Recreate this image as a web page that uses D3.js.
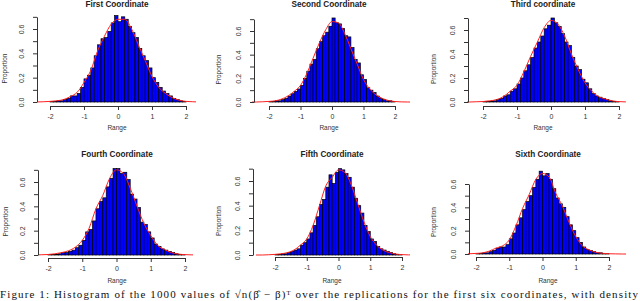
<!DOCTYPE html>
<html>
<head>
<meta charset="utf-8">
<script src="https://cdn.jsdelivr.net/npm/d3@7"></script>
<style>
  body { margin: 0; background: #fff; }
  svg { display: block; font-family: "Liberation Sans", Arial, sans-serif; }
</style>
</head>
<body>
<div id="chart"></div>
<script>
// bin left edges, width 0.1
const binStarts = [-2.0, -1.9, -1.8, -1.7, -1.6, -1.5, -1.4, -1.3, -1.2, -1.1,
                   -1.0, -0.9, -0.8, -0.7, -0.6, -0.5, -0.4, -0.3, -0.2, -0.1,
                    0.0,  0.1,  0.2,  0.3,  0.4,  0.5,  0.6,  0.7,  0.8,  0.9,
                    1.0,  1.1,  1.2,  1.3,  1.4,  1.5,  1.6,  1.7,  1.8,  1.9];
const binWidth = 0.1;

const titles = ["First Coordinate", "Second Coordinate", "Third coordinate",
                "Fourth Coordinate", "Fifth Coordinate", "Sixth Coordinate"];

const first  = [0.005, 0.005, 0.01, 0.01, 0.02, 0.03, 0.05, 0.05, 0.07, 0.12,
                0.19, 0.22, 0.28, 0.38, 0.47, 0.52, 0.53, 0.58, 0.65, 0.71,
                0.66, 0.70, 0.68, 0.62, 0.57, 0.53, 0.44, 0.38, 0.34, 0.28,
                0.20, 0.16, 0.12, 0.09, 0.07, 0.05, 0.03, 0.02, 0.01, 0.005];
const second = [0.005, 0.005, 0.01, 0.01, 0.02, 0.03, 0.05, 0.07, 0.09, 0.11,
                0.14, 0.20, 0.26, 0.32, 0.36, 0.45, 0.51, 0.56, 0.59, 0.64,
                0.71, 0.67, 0.66, 0.62, 0.56, 0.55, 0.46, 0.36, 0.33, 0.23,
                0.19, 0.12, 0.10, 0.08, 0.05, 0.03, 0.02, 0.01, 0.01, 0.005];
const third  = [0.003, 0.005, 0.005, 0.01, 0.02, 0.03, 0.05, 0.06, 0.09, 0.11,
                0.15, 0.20, 0.26, 0.31, 0.37, 0.45, 0.50, 0.55, 0.61, 0.64,
                0.70, 0.66, 0.63, 0.57, 0.50, 0.47, 0.37, 0.30, 0.27, 0.19,
                0.16, 0.11, 0.07, 0.05, 0.04, 0.03, 0.02, 0.01, 0.005, 0.003];
const fourth = [0.003, 0.005, 0.005, 0.01, 0.02, 0.02, 0.03, 0.04, 0.06, 0.08,
                0.12, 0.19, 0.21, 0.28, 0.38, 0.44, 0.47, 0.56, 0.63, 0.71,
                0.71, 0.67, 0.68, 0.62, 0.50, 0.46, 0.39, 0.27, 0.25, 0.19,
                0.14, 0.09, 0.07, 0.05, 0.04, 0.03, 0.02, 0.01, 0.005, 0.003];
const fifth  = [0.005, 0.005, 0.01, 0.01, 0.02, 0.03, 0.04, 0.05, 0.08, 0.10,
                0.13, 0.18, 0.24, 0.31, 0.41, 0.45, 0.55, 0.65, 0.58, 0.67,
                0.70, 0.69, 0.66, 0.63, 0.55, 0.46, 0.40, 0.34, 0.24, 0.19,
                0.13, 0.11, 0.07, 0.05, 0.04, 0.03, 0.02, 0.01, 0.005, 0.005];
const sixth  = [0.003, 0.005, 0.01, 0.01, 0.02, 0.03, 0.05, 0.06, 0.06, 0.08,
                0.13, 0.18, 0.25, 0.31, 0.38, 0.45, 0.50, 0.57, 0.64, 0.71,
                0.67, 0.69, 0.64, 0.56, 0.48, 0.43, 0.40, 0.32, 0.25, 0.20,
                0.14, 0.10, 0.06, 0.04, 0.03, 0.02, 0.01, 0.01, 0.005, 0.003];

// red density curve, read at these points
const densX = [-2.6, -2.4, -2.2, -2.0, -1.8, -1.6, -1.4, -1.2, -1.0, -0.8, -0.6, -0.4, -0.2,
                0.0,  0.2,  0.4,  0.6,  0.8,  1.0,  1.2,  1.4,  1.6,  1.8,  2.0,  2.2,  2.4, 2.6];
const densFirst  = [0, 0, 0.002, 0.005, 0.01, 0.02, 0.045, 0.08, 0.16, 0.26, 0.42, 0.54, 0.64,
                    0.68, 0.68, 0.60, 0.47, 0.34, 0.21, 0.12, 0.07, 0.035, 0.015, 0.005, 0.002, 0, 0];
const densSecond = [0, 0, 0.002, 0.005, 0.01, 0.025, 0.05, 0.09, 0.14, 0.24, 0.37, 0.50, 0.61,
                    0.68, 0.67, 0.58, 0.45, 0.32, 0.19, 0.11, 0.06, 0.03, 0.012, 0.004, 0.001, 0, 0];
const densThird  = [0, 0, 0.002, 0.004, 0.01, 0.02, 0.045, 0.09, 0.14, 0.25, 0.38, 0.50, 0.62,
                    0.68, 0.65, 0.55, 0.40, 0.27, 0.16, 0.09, 0.045, 0.025, 0.01, 0.003, 0.001, 0, 0];
const densFourth = [0, 0, 0.002, 0.004, 0.01, 0.02, 0.035, 0.065, 0.12, 0.22, 0.38, 0.49, 0.63,
                    0.70, 0.67, 0.55, 0.40, 0.26, 0.16, 0.08, 0.045, 0.02, 0.008, 0.003, 0.001, 0, 0];
const densFifth  = [0, 0, 0.002, 0.005, 0.01, 0.02, 0.04, 0.08, 0.13, 0.24, 0.40, 0.56, 0.63,
                    0.69, 0.67, 0.57, 0.42, 0.27, 0.15, 0.08, 0.04, 0.02, 0.008, 0.003, 0.001, 0, 0];
const densSixth  = [0, 0, 0.002, 0.005, 0.01, 0.025, 0.05, 0.07, 0.12, 0.24, 0.39, 0.51, 0.64,
                    0.69, 0.66, 0.52, 0.41, 0.27, 0.15, 0.07, 0.035, 0.015, 0.006, 0.002, 0.001, 0, 0];

const xTicks = [-2, -1, 0, 1, 2];
const yTicks = [0, 0.1, 0.2, 0.3, 0.4, 0.5, 0.6, 0.7];
const yTop = [0.7, 0.7, 0.7, 0.7, 0.7, 0.6];

const caption = "Figure 1:  Histogram of the 1000 values of \u221An(\u03B2\u0302 \u2212 \u03B2)\u1D40 over the replications for the first six coordinates, with density";

// pixel layout of each panel (R par-like placement)
const layout = [
  {ax: 37,  xa: 50,  xb: 186, y0: 102, y6: 29,  xAxisY: 106, left: 38,  right: 196, cx: 117, titleY: 7,   rangeY: 130, propX: 7},
  {ax: 254, xa: 269, xb: 395, y0: 102, y6: 31,  xAxisY: 106, left: 252, right: 410, cx: 329, titleY: 7,   rangeY: 130, propX: 221},
  {ax: 468, xa: 483, xb: 619, y0: 102, y6: 30,  xAxisY: 106, left: 467, right: 626, cx: 543, titleY: 7,   rangeY: 130, propX: 436},
  {ax: 38,  xa: 48,  xb: 185, y0: 255, y6: 182, xAxisY: 258, left: 39,  right: 193, cx: 117, titleY: 157, rangeY: 283, propX: 8},
  {ax: 253, xa: 275, xb: 402, y0: 255, y6: 181, xAxisY: 257, left: 252, right: 410, cx: 332, titleY: 157, rangeY: 283, propX: 221},
  {ax: 469, xa: 476, xb: 609, y0: 254, y6: 184, xAxisY: 257, left: 468, right: 626, cx: 548, titleY: 157, rangeY: 283, propX: 436}
];

const panels = [
  {title: titles[0], bars: first,  dens: densFirst},
  {title: titles[1], bars: second, dens: densSecond},
  {title: titles[2], bars: third,  dens: densThird},
  {title: titles[3], bars: fourth, dens: densFourth},
  {title: titles[4], bars: fifth,  dens: densFifth},
  {title: titles[5], bars: sixth,  dens: densSixth}
];

const width = 640, height = 301;
const svg = d3.select("#chart").append("svg")
    .attr("width", width)
    .attr("height", height);

panels.forEach((p, i) => {
    const L = layout[i];
    const x = d3.scaleLinear().domain([-2, 2]).range([L.xa, L.xb]);
    const y = d3.scaleLinear().domain([0, 0.6]).range([L.y0, L.y6]);
    const g = svg.append("g");

    const clipId = "clip" + i;
    g.append("clipPath").attr("id", clipId)
      .append("rect")
        .attr("x", L.left).attr("y", y(0.75))
        .attr("width", L.right - L.left).attr("height", y(0) - y(0.75) + 2);

    // bars
    g.append("g")
        .attr("fill", "#0000ff")
        .attr("stroke", "#000")
        .attr("stroke-width", 0.7)
      .selectAll("rect")
      .data(p.bars)
      .join("rect")
        .attr("x", (d, j) => x(binStarts[j]))
        .attr("width", (d, j) => x(binStarts[j] + binWidth) - x(binStarts[j]))
        .attr("y", d => y(d))
        .attr("height", d => y(0) - y(d));

    // density line
    const line = d3.line()
        .x((d, j) => x(densX[j]))
        .y(d => y(d))
        .curve(d3.curveMonotoneX);
    g.append("path")
        .datum(p.dens)
        .attr("clip-path", `url(#${clipId})`)
        .attr("fill", "none")
        .attr("stroke", "#ff2020")
        .attr("stroke-width", 1)
        .attr("d", line);

    // x axis
    const xAxis = g.append("g")
        .attr("transform", `translate(0,${L.xAxisY})`)
        .call(d3.axisBottom(x).tickValues(xTicks).tickSizeOuter(0).tickSize(4).tickFormat(d3.format("d")));
    xAxis.selectAll("path, line").attr("stroke", "#333");
    xAxis.selectAll("text")
        .attr("fill", "#333")
        .attr("font-size", 7)
        .attr("y", 8)
        .text(d => d < 0 ? "-" + Math.abs(d) : d);

    // y axis
    const ys = d3.scaleLinear().domain([0, yTop[i]]).range([y(0), y(yTop[i])]);
    const yAxis = g.append("g")
        .attr("transform", `translate(${L.ax},0)`)
        .call(d3.axisLeft(ys).tickValues(yTicks.filter(t => t <= yTop[i] + 1e-9))
              .tickSize(4).tickSizeOuter(0).tickFormat(d3.format(".1f")));
    yAxis.selectAll("path, line").attr("stroke", "#333");
    yAxis.selectAll("text")
        .attr("fill", "#333")
        .attr("font-size", 7)
        .attr("text-anchor", "middle")
        .attr("transform", "rotate(-90)")
        .attr("x", 0)
        .attr("dy", 0)
        .attr("y", -13.5)
        .style("display", d => Math.round(d * 10) % 2 === 0 ? null : "none");

    // titles
    g.append("text")
        .attr("x", L.cx).attr("y", L.titleY)
        .attr("text-anchor", "middle")
        .attr("font-size", 8.2)
        .attr("font-weight", "bold")
        .attr("fill", "#222")
        .text(p.title);
    g.append("text")
        .attr("x", L.cx).attr("y", L.rangeY)
        .attr("text-anchor", "middle")
        .attr("font-size", 6.5)
        .attr("fill", "#333")
        .text("Range");
    g.append("text")
        .attr("transform", `translate(${L.propX},${(y(0) + y(0.6)) / 2 + 3}) rotate(-90)`)
        .attr("text-anchor", "middle")
        .attr("font-size", 6.5)
        .attr("fill", "#333")
        .text("Proportion");
});

svg.append("text")
    .attr("x", 0).attr("y", 297.5)
    .attr("font-family", "'Liberation Serif', 'DejaVu Serif', serif")
    .attr("font-size", 11)
    .attr("fill", "#111")
    .attr("textLength", 638)
    .attr("lengthAdjust", "spacing")
    .text(caption);
</script>
</body>
</html>
